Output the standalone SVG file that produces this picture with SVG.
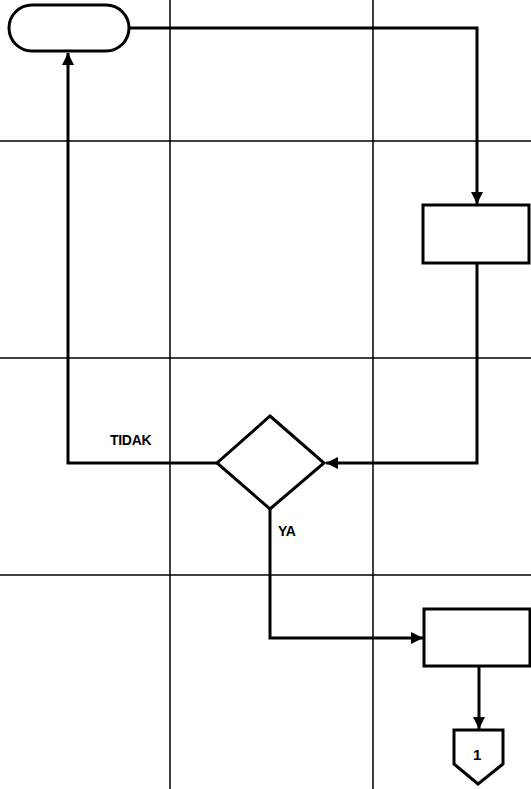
<svg xmlns="http://www.w3.org/2000/svg" width="531" height="789" viewBox="0 0 531 789">
<style>
.grid{stroke:#000;stroke-width:1.5;fill:none}
.shape{fill:#fff;stroke:#000;stroke-width:3}
.conn{fill:none;stroke:#000;stroke-width:3}
.lbl{font-family:"Liberation Sans",Arial,sans-serif;font-size:14px;font-weight:bold;fill:#000;letter-spacing:-0.3px}
</style>
<defs>
<marker id="arr" markerWidth="12" markerHeight="12" refX="10" refY="5" orient="auto" markerUnits="userSpaceOnUse" viewBox="0 0 10 10">
<path d="M0,0 L10,5 L0,10 z" fill="#000"/>
</marker>
</defs>
<rect width="531" height="789" fill="#fff"/>
<g id="grid">
<line class="grid" x1="170" y1="0" x2="170" y2="789"/>
<line class="grid" x1="373" y1="0" x2="373" y2="789"/>
<line class="grid" x1="0" y1="141" x2="531" y2="141"/>
<line class="grid" x1="0" y1="358" x2="531" y2="358"/>
<line class="grid" x1="0" y1="575" x2="531" y2="575"/>
</g>
<g id="connectors">
<path class="conn" d="M129,28 H477 V204" marker-end="url(#arr)"/>
<path class="conn" d="M477,263 V463 H326" marker-end="url(#arr)"/>
<path class="conn" d="M217,463 H68 V53" marker-end="url(#arr)"/>
<path class="conn" d="M270,509 V638 H423" marker-end="url(#arr)"/>
<path class="conn" d="M479,666 V729" marker-end="url(#arr)"/>
</g>
<g id="start">
<rect class="shape" x="9" y="5" width="120" height="46" rx="23" ry="23"/>
</g>
<g id="process1">
<rect class="shape" x="423" y="205" width="106" height="58"/>
</g>
<g id="decision">
<polygon class="shape" points="270,416 324,463 270,509 217,463"/>
<text class="lbl" x="110" y="445">TIDAK</text>
<text class="lbl" x="278" y="536">YA</text>
</g>
<g id="process2">
<rect class="shape" x="424" y="609" width="106" height="57"/>
</g>
<g id="offpage">
<polygon class="shape" points="454,730 503,730 503,764 478,784 454,764"/>
<text class="lbl" x="477" y="760" text-anchor="middle" style="font-size:15px">1</text>
</g>
</svg>
